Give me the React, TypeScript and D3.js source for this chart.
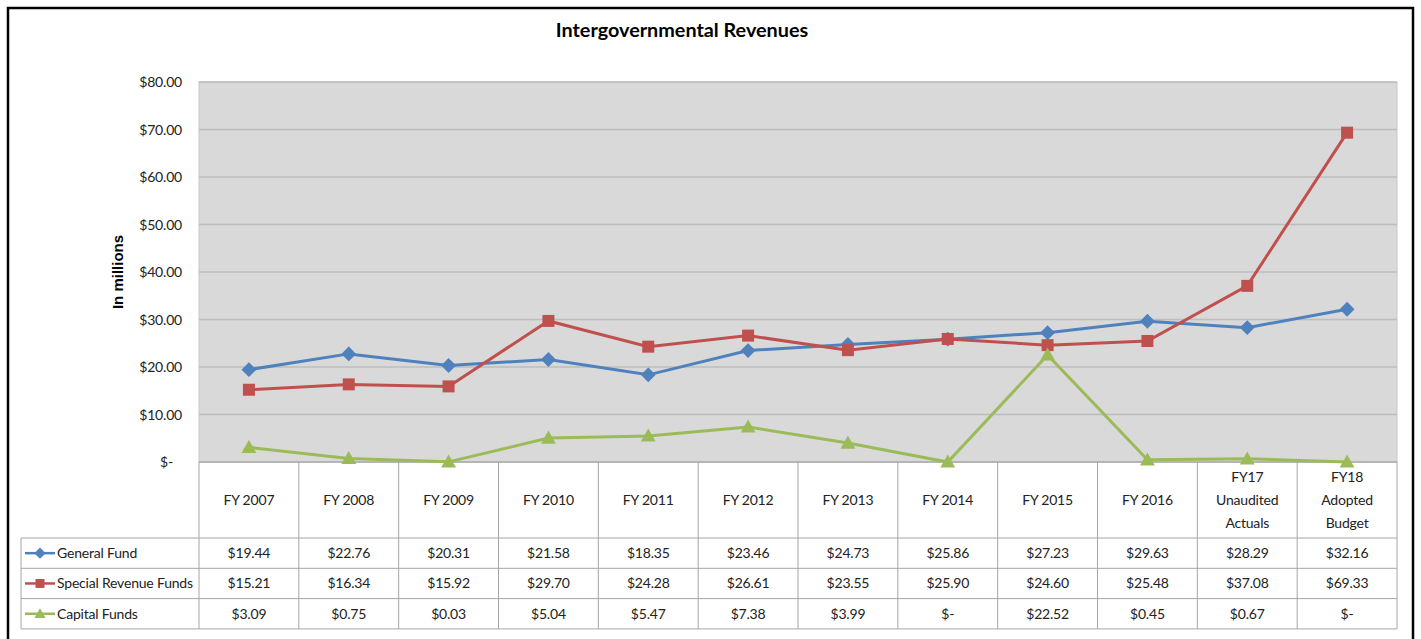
import React, { useEffect, useRef } from "react";
import * as d3 from "d3";

const categories = [
  ["FY 2007"],
  ["FY 2008"],
  ["FY 2009"],
  ["FY 2010"],
  ["FY 2011"],
  ["FY 2012"],
  ["FY 2013"],
  ["FY 2014"],
  ["FY 2015"],
  ["FY 2016"],
  ["FY17", "Unaudited", "Actuals"],
  ["FY18", "Adopted", "Budget"],
];
const generalFund = [19.44, 22.76, 20.31, 21.58, 18.35, 23.46, 24.73, 25.86, 27.23, 29.63, 28.29, 32.16];
const specialRevenue = [15.21, 16.34, 15.92, 29.7, 24.28, 26.61, 23.55, 25.9, 24.6, 25.48, 37.08, 69.33];
const capitalFunds = [3.09, 0.75, 0.03, 5.04, 5.47, 7.38, 3.99, 0, 22.52, 0.45, 0.67, 0];
const yTicks = [0, 10, 20, 30, 40, 50, 60, 70, 80];

const series = [
  { name: "General Fund", values: generalFund, color: "#4F81BD", marker: "diamond" },
  { name: "Special Revenue Funds", values: specialRevenue, color: "#C0504D", marker: "square" },
  { name: "Capital Funds", values: capitalFunds, color: "#9BBB59", marker: "triangle" },
];

// Lato is the closest installed match to Calibri
const FONT = "Lato, 'Liberation Sans', sans-serif";
const FS = 14;

const App = () => {
  const ref = useRef<SVGSVGElement>(null);

  useEffect(() => {
    const svg = d3.select(ref.current);
    svg.selectAll("*").remove();

    const left = 199, right = 1397, top = 82, bottom = 462;
    const x = d3.scaleBand<number>().domain(d3.range(categories.length)).range([left, right]);
    const y = d3.scaleLinear().domain([0, 80]).range([bottom, top]);
    const cx = (i: number) => (x(i) as number) + x.bandwidth() / 2;
    const fmt = (v: number) => (v === 0 ? "$-" : "$" + v.toFixed(2));

    // outer frame
    svg.append("rect").attr("x", 8).attr("y", 8).attr("width", 1405).attr("height", 640)
      .attr("fill", "#fff").attr("stroke", "#000").attr("stroke-width", 2.5);

    svg.append("text").attr("x", 682).attr("y", 37).attr("text-anchor", "middle")
      .attr("font-family", FONT).attr("font-weight", "bold").attr("font-size", 19.8)
      .text("Intergovernmental Revenues");

    // plot area
    svg.append("rect").attr("x", left).attr("y", top).attr("width", right - left).attr("height", bottom - top)
      .attr("fill", "#D9D9D9").attr("stroke", "#C8C8C8");

    const grid = svg.append("g");
    yTicks.forEach((t) => {
      grid.append("line").attr("x1", left).attr("x2", right).attr("y1", y(t)).attr("y2", y(t))
        .attr("stroke", "#BDBDBD").attr("stroke-width", 1.5);
      grid.append("text").attr("x", t === 0 ? 173 : 182).attr("y", y(t) + 5).attr("text-anchor", "end")
        .attr("font-family", FONT).attr("font-size", FS).attr("letter-spacing", -0.2).attr("fill", "#222")
        .text(t === 0 ? "$-" : "$" + t.toFixed(2));
    });

    svg.append("text").attr("transform", `translate(123,${(top + bottom) / 2}) rotate(-90)`)
      .attr("text-anchor", "middle").attr("font-family", "'Liberation Sans', Arial, sans-serif")
      .attr("font-weight", "bold").attr("font-size", 15).text("In millions");

    // table
    const tableTop = bottom, headBottom = 538, rowH = 30.3;
    const tbl = svg.append("g").attr("stroke", "#A6A6A6").attr("stroke-width", 1);
    const rowsBottom = headBottom + rowH * series.length;
    tbl.append("line").attr("x1", left).attr("x2", right).attr("y1", tableTop).attr("y2", tableTop);
    d3.range(categories.length + 1).forEach((i) => {
      const xx = i === categories.length ? right : (x(i) as number);
      tbl.append("line").attr("x1", xx).attr("x2", xx).attr("y1", tableTop).attr("y2", rowsBottom);
    });
    tbl.append("line").attr("x1", 21).attr("x2", 21).attr("y1", headBottom).attr("y2", rowsBottom);
    d3.range(series.length + 1).forEach((r) => {
      const yy = headBottom + r * rowH;
      tbl.append("line").attr("x1", 21).attr("x2", right).attr("y1", yy).attr("y2", yy);
    });

    categories.forEach((lines, i) => {
      const t = svg.append("text").attr("text-anchor", "middle").attr("font-family", FONT)
        .attr("font-size", FS).attr("letter-spacing", -0.2).attr("fill", "#222");
      const mid = (tableTop + headBottom) / 2 + 5;
      const start = mid - ((lines.length - 1) * 23) / 2;
      lines.forEach((l, k) => t.append("tspan").attr("x", cx(i)).attr("y", start + k * 23).text(l));
    });

    const drawMarker = (g: d3.Selection<SVGGElement, unknown, null, undefined>, kind: string, px: number, py: number, color: string, s: number) => {
      if (kind === "square") {
        g.append("rect").attr("x", px - s / 2).attr("y", py - s / 2).attr("width", s).attr("height", s).attr("fill", color);
      } else if (kind === "diamond") {
        const r = s * 0.62;
        g.append("path").attr("d", `M${px},${py - r}L${px + r},${py}L${px},${py + r}L${px - r},${py}Z`).attr("fill", color);
      } else {
        const r = s * 0.62;
        g.append("path").attr("d", `M${px},${py - r}L${px + r},${py + r * 0.75}L${px - r},${py + r * 0.75}Z`).attr("fill", color);
      }
    };

    series.forEach((s, r) => {
      const ry = headBottom + r * rowH + rowH / 2;
      const g = svg.append("g");
      g.append("line").attr("x1", 25).attr("x2", 55).attr("y1", ry).attr("y2", ry)
        .attr("stroke", s.color).attr("stroke-width", 2.5);
      drawMarker(g, s.marker, 40, ry, s.color, 9);
      g.append("text").attr("x", 57).attr("y", ry + 5).attr("font-family", FONT).attr("font-size", FS)
        .attr("letter-spacing", -0.2).attr("fill", "#222").text(s.name);
      s.values.forEach((v, i) => {
        g.append("text").attr("x", cx(i)).attr("y", ry + 5).attr("text-anchor", "middle")
          .attr("font-family", FONT).attr("font-size", FS).attr("letter-spacing", -0.2)
          .attr("fill", "#222").text(fmt(v));
      });
    });

    // series lines and markers
    series.forEach((s) => {
      const line = d3.line<number>().x((_, i) => cx(i)).y((v) => y(v));
      const g = svg.append("g");
      g.append("path").attr("d", line(s.values) as string).attr("fill", "none")
        .attr("stroke", s.color).attr("stroke-width", 3);
      s.values.forEach((v, i) => drawMarker(g, s.marker, cx(i), y(v), s.color, 12));
    });
  }, []);

  return <svg ref={ref} width={1421} height={639} style={{ position: "absolute", left: 0, top: 0 }} />;
};

export default App;
